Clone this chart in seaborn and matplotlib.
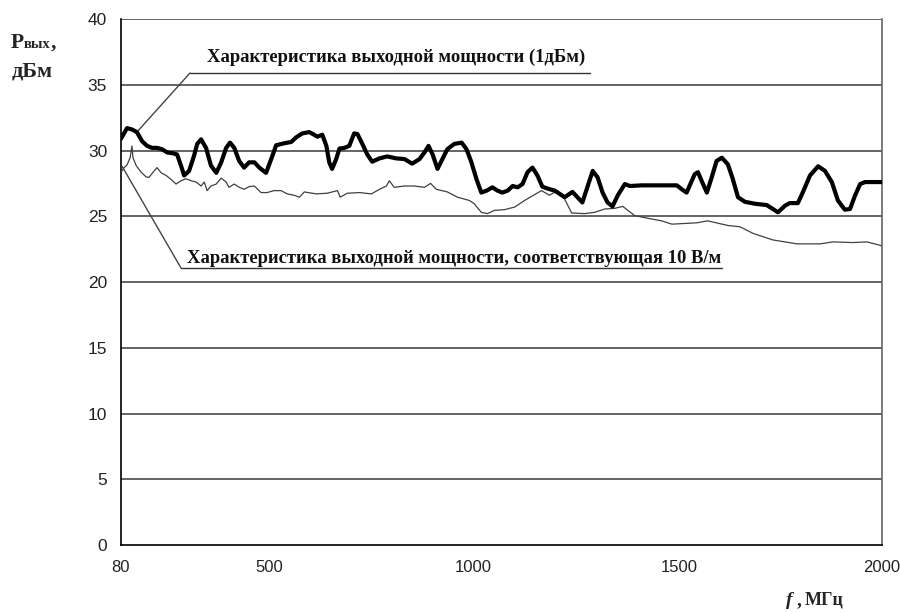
import numpy as np
import pandas as pd
import seaborn as sns
import matplotlib
matplotlib.use("Agg")
import matplotlib.pyplot as plt
from matplotlib.lines import Line2D

# thick curve: output power characteristic (1 dBm)
f_1db = [80, 97, 111, 125, 140, 154, 168, 182, 196, 211, 225, 239, 250, 259, 273, 287,
         296, 307, 321, 335, 350, 364, 378, 389, 401, 415, 429, 443, 458, 472, 491, 505,
         517, 537, 554, 566, 581, 598, 610, 618, 630, 640, 647, 654, 664, 672, 684, 696,
         708, 716, 728, 740, 752, 770, 789, 811, 831, 850, 868, 880, 890, 900, 912, 924,
         936, 953, 971, 983, 995, 1007, 1019, 1032, 1046, 1058, 1070, 1083, 1095, 1107,
         1119, 1131, 1143, 1155, 1167, 1180, 1197, 1209, 1221, 1233, 1240, 1252, 1264,
         1277, 1289, 1301, 1313, 1325, 1337, 1350, 1367, 1379, 1408, 1493, 1505, 1517,
         1530, 1537, 1545, 1554, 1567, 1579, 1591, 1604, 1619, 1631, 1644, 1661, 1686,
         1715, 1730, 1743, 1760, 1772, 1792, 1804, 1822, 1842, 1859, 1876, 1891, 1908,
         1921, 1933, 1946, 1958, 2000]
p_1db = [30.9, 31.7, 31.6, 31.4, 30.7, 30.35, 30.2, 30.2, 30.1, 29.85, 29.8, 29.7, 28.85,
         28.1, 28.45, 29.6, 30.5, 30.85, 30.2, 28.85, 28.3, 29.1, 30.2, 30.6, 30.2, 29.2,
         28.7, 29.1, 29.1, 28.7, 28.3, 29.35, 30.4, 30.55, 30.65, 31.0, 31.3, 31.4, 31.2,
         31.05, 31.2, 30.35, 29.1, 28.6, 29.35, 30.15, 30.2, 30.35, 31.3, 31.25, 30.5,
         29.7, 29.15, 29.4, 29.55, 29.4, 29.35, 29.0, 29.35, 29.85, 30.35, 29.7, 28.6,
         29.35, 30.1, 30.5, 30.6, 30.1, 29.1, 27.85, 26.8, 26.95, 27.2, 26.95, 26.8, 26.95,
         27.3, 27.2, 27.45, 28.35, 28.7, 28.1, 27.25, 27.1, 26.95, 26.7, 26.45, 26.7, 26.85,
         26.45, 26.05, 27.3, 28.45, 27.95, 26.8, 26.05, 25.75, 26.6, 27.45, 27.3, 27.35,
         27.35, 27.05, 26.8, 27.7, 28.2, 28.35, 27.7, 26.8, 27.95, 29.2, 29.45, 28.95,
         27.85, 26.45, 26.1, 25.95, 25.85, 25.55, 25.3, 25.8, 26.0, 26.0, 26.8, 28.1, 28.8,
         28.45, 27.6, 26.2, 25.5, 25.55, 26.55, 27.45, 27.6, 27.6]

# thin curve: output power corresponding to 10 V/m
f_10v = [80, 89, 97, 106, 111, 114, 123, 137, 151, 159, 171, 182, 194, 208, 222, 236,
         250, 264, 279, 293, 307, 316, 324, 335, 350, 364, 378, 386, 401, 415, 429, 443,
         458, 477, 494, 512, 529, 544, 561, 574, 586, 615, 642, 667, 674, 691, 721, 750,
         770, 787, 794, 806, 831, 855, 880, 895, 909, 936, 961, 990, 1002, 1019, 1034,
         1051, 1075, 1100, 1124, 1143, 1165, 1184, 1204, 1221, 1238, 1269, 1294, 1318,
         1342, 1362, 1374, 1391, 1422, 1456, 1481, 1512, 1542, 1569, 1619, 1649, 1681,
         1730, 1790, 1847, 1879, 1928, 1963, 2000]
p_10v = [28.35, 28.7, 28.9, 29.45, 30.35, 29.45, 28.85, 28.35, 28.0, 27.95, 28.35, 28.7,
         28.3, 28.1, 27.8, 27.45, 27.7, 27.85, 27.7, 27.6, 27.3, 27.6, 26.95, 27.3, 27.45,
         27.9, 27.6, 27.2, 27.45, 27.2, 27.05, 27.25, 27.3, 26.8, 26.8, 26.95, 26.95, 26.7,
         26.6, 26.45, 26.85, 26.7, 26.75, 26.95, 26.45, 26.75, 26.8, 26.7, 27.05, 27.3,
         27.7, 27.2, 27.3, 27.3, 27.2, 27.5, 27.05, 26.85, 26.45, 26.2, 25.95, 25.3, 25.2,
         25.45, 25.5, 25.7, 26.2, 26.55, 26.95, 26.6, 26.95, 26.3, 25.25, 25.2, 25.3, 25.55,
         25.6, 25.75, 25.45, 25.05, 24.85, 24.65, 24.4, 24.45, 24.5, 24.65, 24.3, 24.2,
         23.7, 23.2, 22.9, 22.9, 23.05, 23.0, 23.05, 22.75]

x_ticks = [80, 500, 1000, 1500, 2000]
y_ticks = [0, 5, 10, 15, 20, 25, 30, 35, 40]
label_1db = "Характеристика выходной мощности (1дБм)"
label_10v = "Характеристика выходной мощности, соответствующая 10 В/м"

# excel category axis is not linear in MHz: spacing of the printed ticks
tick_pos = [0, 148, 352, 558, 760]


def fwd(x):
    return np.interp(x, x_ticks, tick_pos)


def inv(x):
    return np.interp(x, tick_pos, x_ticks)


sns.set_theme(style="white")
plt.rcParams["font.family"] = ["Liberation Sans", "DejaVu Sans"]

df1 = pd.DataFrame({"f": f_1db, "P": p_1db})
df2 = pd.DataFrame({"f": f_10v, "P": p_10v})

W, H = 900, 613
fig = plt.figure(figsize=(9, 6.13), dpi=100)
ax = fig.add_axes([121 / W, 1 - 545 / H, (882 - 121) / W, (545 - 19) / H])
ax.set_xscale("function", functions=(fwd, inv))


def ftext(px, py, s, **kw):
    # place text by pixel position measured from the top-left corner
    return fig.text(px / W, 1 - py / H, s, **kw)


def fline(xs, ys, **kw):
    fig.add_artist(Line2D([x / W for x in xs], [1 - y / H for y in ys],
                          transform=fig.transFigure, **kw))


for y in y_ticks[1:]:
    ax.axhline(y, color="#3a3a3a", lw=1.1, zorder=1)

sns.lineplot(data=df2, x="f", y="P", ax=ax, color="#404040", lw=0.9, zorder=3)
sns.lineplot(data=df1, x="f", y="P", ax=ax, color="black", lw=3.0, zorder=4)

ax.set_xlim(80, 2000)
ax.set_ylim(0, 40)
ax.set_xticks(x_ticks)
ax.set_xticklabels([str(v) for v in x_ticks])
ax.set_yticks(y_ticks)
ax.set_xlabel("")
ax.set_ylabel("")
ax.minorticks_off()
ax.tick_params(axis="x", which="both", direction="out", length=5, width=1, color="black",
               labelsize=12, pad=6, labelcolor="#222222")
ax.tick_params(axis="y", direction="out", length=5, width=1, color="black",
               labelsize=12.5, pad=5, labelcolor="#222222")

for s in ["left", "bottom"]:
    ax.spines[s].set_color("black")
    ax.spines[s].set_linewidth(1.2)
ax.spines["right"].set_color("#666666")
ax.spines["right"].set_linewidth(1.2)
ax.spines["top"].set_visible(False)

serif = ["Liberation Serif", "DejaVu Serif"]

# callouts
ftext(207, 62, label_1db, fontsize=13.4, fontweight="bold", family=serif, color="#111111")
fline([190, 590], [73, 73], color="#333333", lw=1)
ax.annotate("", xy=(125, 31.4), xycoords="data", xytext=(190 / W, 1 - 73 / H),
            textcoords="figure fraction",
            arrowprops=dict(arrowstyle="-", color="#444444", lw=1, shrinkA=0, shrinkB=0))

ftext(187, 263, label_10v, fontsize=13.4, fontweight="bold", family=serif, color="#111111")
fline([181, 722], [268, 268], color="#333333", lw=1)
ax.annotate("", xy=(83, 28.8), xycoords="data", xytext=(181 / W, 1 - 268 / H),
            textcoords="figure fraction",
            arrowprops=dict(arrowstyle="-", color="#444444", lw=1, shrinkA=0, shrinkB=0))

# axis titles
ftext(11, 48, "P", fontsize=15.5, fontweight="bold", family=serif)
ftext(24, 48, "вых", fontsize=10.5, fontweight="bold", family=serif)
ftext(51, 48, ",", fontsize=15.5, fontweight="bold", family=serif)
ftext(12, 76, "дБм", fontsize=16, fontweight="bold", family=serif)

ftext(786, 605, "f", fontsize=14, fontweight="bold", style="italic", family=serif)
ftext(797, 605, ",", fontsize=14, fontweight="bold", family=serif)
ftext(805, 605, "МГц", fontsize=13, fontweight="bold", family=serif)

fig.savefig("out.png", dpi=100)
